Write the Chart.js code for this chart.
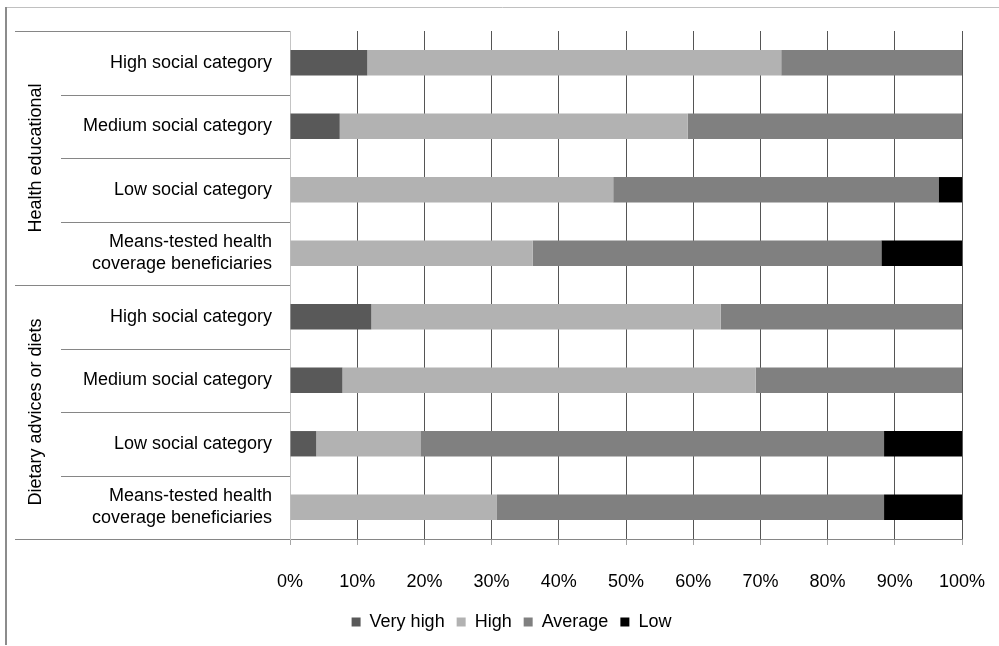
<!DOCTYPE html>
<html>
<head>
<meta charset="utf-8">
<script src="https://cdn.jsdelivr.net/npm/chart.js@4"></script>
<style>
  body { margin: 0; background: #fff; overflow: hidden; }
  #wrap { width: 999px; height: 646px; position: relative; }
</style>
</head>
<body>
<div id="wrap"><canvas id="myChart"></canvas></div>
<script>
// categories (top to bottom)
var categories = [
    "High social category",
    "Medium social category",
    "Low social category",
    ["Means-tested health", "coverage beneficiaries"],
    "High social category",
    "Medium social category",
    "Low social category",
    ["Means-tested health", "coverage beneficiaries"]
];
var groups = ["Health educational", "Dietary advices or diets"];

// shares in %
var veryHigh = [11.5, 7.4, 0, 0, 12.1, 7.8, 3.9, 0];
var high     = [61.6, 51.8, 48.1, 36.1, 52.0, 61.5, 15.5, 30.8];
var average  = [26.9, 40.8, 48.4, 51.9, 35.9, 30.7, 69.0, 57.6];
var low      = [0, 0, 3.5, 12.0, 0, 0, 11.6, 11.6];

var xTicks = [0, 10, 20, 30, 40, 50, 60, 70, 80, 90, 100];

Chart.defaults.font.family = "'Liberation Sans', Arial, sans-serif";
Chart.defaults.font.size = 18;
Chart.defaults.color = '#000';

// outer frame, category separators and group titles
var decor = {
    id: 'decor',
    beforeDraw: function(chart) {
        var c = chart.ctx;
        c.save();
        c.fillStyle = '#fff';
        c.fillRect(0, 0, chart.width, chart.height);
        c.lineWidth = 1;
        c.strokeStyle = '#c0c0c0';
        c.beginPath(); c.moveTo(6, 7.5); c.lineTo(chart.width, 7.5); c.stroke();
        c.strokeStyle = '#8c8c8c';
        c.lineWidth = 2;
        c.beginPath(); c.moveTo(6, 7); c.lineTo(6, 645); c.stroke();
        c.restore();
    },
    afterDraw: function(chart) {
        var c = chart.ctx, y = chart.scales.y, left = chart.chartArea.left;
        c.save();
        c.strokeStyle = '#868686';
        c.lineWidth = 1;
        for (var i = 0; i <= categories.length; i++) {
            var py = Math.round(y.getPixelForValue(i - 0.5)) + 0.5;
            var x0 = (i % 4 === 0) ? 15 : 61;
            c.beginPath(); c.moveTo(x0, py); c.lineTo(left, py); c.stroke();
        }
        c.fillStyle = '#000';
        c.font = "18px 'Liberation Sans', Arial, sans-serif";
        c.textAlign = 'center';
        c.textBaseline = 'middle';
        for (var g = 0; g < groups.length; g++) {
            var top = y.getPixelForValue(g * 4 - 0.5);
            var bot = y.getPixelForValue(g * 4 + 3.5);
            c.save();
            c.translate(36, (top + bot) / 2);
            c.rotate(-Math.PI / 2);
            c.fillText(groups[g], 0, 0);
            c.restore();
        }
        c.restore();
    }
};

var ctx = document.getElementById("myChart").getContext('2d');
var myChart = new Chart(ctx, {
    type: 'bar',
    data: {
        labels: categories,
        datasets: [
            { label: 'Very high', data: veryHigh, backgroundColor: '#595959' },
            { label: 'High', data: high, backgroundColor: '#b2b2b2' },
            { label: 'Average', data: average, backgroundColor: '#808080' },
            { label: 'Low', data: low, backgroundColor: '#000000' }
        ]
    },
    options: {
        indexAxis: 'y',
        responsive: true,
        maintainAspectRatio: false,
        animation: false,
        barPercentage: 0.4,
        categoryPercentage: 1,
        layout: { padding: { left: 61, top: 31, right: 37, bottom: 5 } },
        plugins: {
            legend: {
                position: 'bottom',
                labels: { boxWidth: 9, boxHeight: 9, padding: 12, font: { size: 18 } }
            },
            tooltip: { enabled: false }
        },
        scales: {
            x: {
                stacked: true,
                min: 0,
                max: 100,
                afterBuildTicks: function(s) { s.ticks = xTicks.map(function(v) { return { value: v }; }); },
                afterFit: function(s) {
                    s.height = 62;
                    s.paddingLeft = 0; s.paddingRight = 0;
                },
                ticks: {
                    padding: 26,
                    callback: function(v) { return v + '%'; }
                },
                border: { color: '#868686' },
                grid: {
                    color: function(c) { return c.index === 0 ? 'rgba(0,0,0,0)' : '#555'; },
                    borderDash: [1, 2],
                    tickColor: '#a6a6a6',
                    tickBorderDash: [],
                    tickLength: 6
                }
            },
            y: {
                stacked: true,
                afterFit: function(s) {
                    s.width = 229;
                    s.paddingTop = 0; s.paddingBottom = 0;
                },
                ticks: { padding: 10 },
                border: { color: '#c4c4c4' },
                grid: { display: false }
            }
        }
    },
    plugins: [decor]
});
</script>
</body>
</html>
